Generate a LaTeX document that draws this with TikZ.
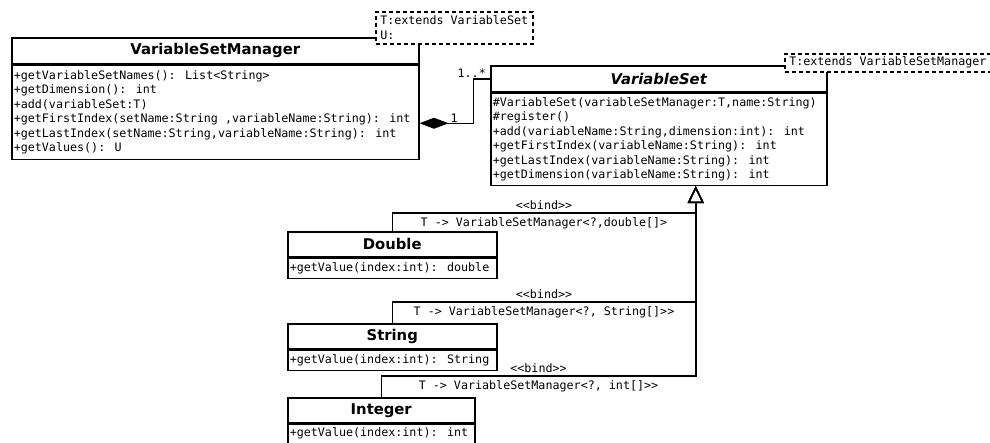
\documentclass[tikz,border=0pt]{standalone}
\usepackage{fontspec}
\setmainfont{DejaVu Sans}
\newfontfamily\umlmono{DejaVu Sans Mono}[WordSpace={1,0,0}]
\usetikzlibrary{arrows.meta,positioning}

\begin{document}
\begin{tikzpicture}[x=1pt,y=-1pt]
   \tikzstyle{every node}=[inner sep=0pt]
   \tikzstyle{classhead}=[draw, line width=1.5pt, fill=white, anchor=north west, minimum height=26pt, font=\fontsize{14.8}{16}\selectfont\bfseries]
   \tikzstyle{classbody}=[draw, line width=1.5pt, fill=white, anchor=north west, inner xsep=2pt, align=flush left, font=\umlmono\fontsize{11.7}{14.5}\selectfont]
   \tikzstyle{tparam}=[draw, line width=1.5pt, dash pattern=on 4pt off 3pt, fill=white, anchor=north west, inner xsep=4.5pt, align=flush left, font=\umlmono\fontsize{11.7}{15}\selectfont]
   \tikzstyle{lbl}=[font=\umlmono\fontsize{11.7}{14}\selectfont, inner sep=1pt]
   \tikzstyle{comp}=[line width=1.5pt, {Diamond[length=29pt,width=11pt]}-]
   \tikzstyle{realize}=[line width=1.5pt, -{Triangle[open,length=17pt,width=16pt]}]
   \clip (0,0) rectangle (990,442);

% VariableSetManager
\node[classhead, minimum width=407pt] (vsmhead) at (11,37) {VariableSetManager};
\node[classbody, text width=403pt, minimum height=94pt] (vsmbody) at (vsmhead.south west)
    {+getVariableSetNames(): List<String>\\
     +getDimension(): int\\
     +add(variableSet:T)\\
     +getFirstIndex(setName:String ,variableName:String): int\\
     +getLastIndex(setName:String,variableName:String): int\\
     +getValues(): U};
\node[tparam, text width=148pt, minimum height=32pt] (vsmtpl) at (375,11) {T:extends VariableSet\\U:};

% VariableSet
\node[classhead, minimum width=336pt, font=\fontsize{14.8}{16}\selectfont\bfseries\itshape] (vshead) at (490,65) {VariableSet};
\node[classbody, text width=332pt, minimum height=92pt] (vsbody) at (vshead.south west)
    {\#VariableSet(variableSetManager:T,name:String)\\
     \#register()\\
     +add(variableName:String,dimension:int): int\\
     +getFirstIndex(variableName:String): int\\
     +getLastIndex(variableName:String): int\\
     +getDimension(variableName:String): int};
\node[tparam, text width=260pt, minimum height=18pt] (vstpl) at (784,53) {T:extends VariableSetManager};

% bound classes
\node[classhead, minimum width=209pt, minimum height=25pt] (dblhead) at (287,231) {Double};
\node[classbody, text width=205pt, minimum height=20pt] (dblbody) at (dblhead.south west) {+getValue(index:int): double};
\node[classhead, minimum width=209pt, minimum height=25pt] (strhead) at (287,323) {String};
\node[classbody, text width=205pt, minimum height=20pt] (strbody) at (strhead.south west) {+getValue(index:int): String};
\node[classhead, minimum width=187pt, minimum height=25pt] (inthead) at (287,397) {Integer};
\node[classbody, text width=183pt, minimum height=19pt] (intbody) at (inthead.south west) {+getValue(index:int): int};

% composition
\draw[comp] ([yshift=-11pt]vsmbody.east) -- ++(54,0) |- (vshead.west);
\node[lbl, above right] (multone) at ([xshift=30pt,yshift=-11pt]vsmbody.east) {1};
\node[lbl, above left] (multmany) at ([xshift=-3pt]vshead.west) {1..*};

% template bindings
\coordinate (vstip) at ([xshift=37pt]vsbody.south);
\coordinate (bindA) at ([yshift=18pt]dblhead.north);
\coordinate (bindB) at ([yshift=21pt]strhead.north);
\coordinate (bindC) at ([yshift=21pt]inthead.north);
\draw[realize] (dblhead.north) |- node[lbl, above=2pt, pos=.75] (bindAtop) {<<bind>>}
    node[lbl, below=2.5pt, pos=.75] (bindAbot) {T -> VariableSetManager<?,double[]>} (bindA -| vstip) -- (vstip);
\draw[realize] (strhead.north) |- node[lbl, above=2pt, pos=.75] (bindBtop) {<<bind>>}
    node[lbl, below=2.5pt, pos=.75] (bindBbot) {T -> VariableSetManager<?, String[]>>} (bindB -| vstip) -- (vstip);
\draw[realize] (inthead.north) |- node[lbl, above=2pt, pos=.75] (bindCtop) {<<bind>>}
    node[lbl, below=2.5pt, pos=.75] (bindCbot) {T -> VariableSetManager<?, int[]>>} (bindC -| vstip) -- (vstip);

\end{tikzpicture}
\end{document}
